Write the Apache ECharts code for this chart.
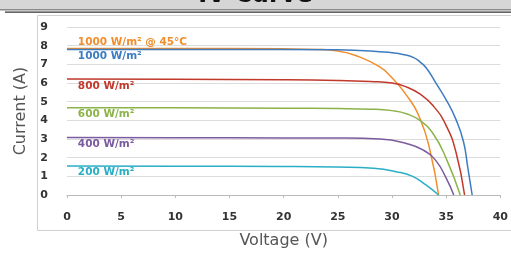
<!DOCTYPE html>
<html style="height: 100%">
<head>
<meta charset="utf-8">
<script src="https://cdn.jsdelivr.net/npm/echarts@6/dist/echarts.min.js"></script>
</head>
<body style="height: 100%; margin: 0; background: #fff">
<div id="container" style="width: 511px; height: 254px"></div>
<script type="text/javascript">
// [voltage, current]
var hot1000 = [[0,7.85],[10,7.85],[20,7.83],[23,7.8],[25,7.72],[27,7.4],[28.9,6.85],[29.8,6.4],[31.4,5.3],[32.6,4.07],[33.5,2.4],[34.3,0]];
var irr1000 = [[0,7.8],[10,7.8],[20,7.8],[25,7.78],[28,7.72],[30,7.62],[31,7.53],[32,7.36],[32.6,7.12],[33.2,6.78],[34.1,5.95],[35.0,5.1],[35.9,4.05],[36.6,2.85],[37.0,1.45],[37.4,0]];
var irr800 = [[0,6.22],[10,6.2],[20,6.18],[25,6.14],[28,6.08],[30,6.0],[31.4,5.77],[32.6,5.4],[33.8,4.78],[35.0,3.72],[35.9,2.3],[36.7,0]];
var irr600 = [[0,4.68],[10,4.67],[20,4.65],[25,4.63],[28,4.6],[30,4.52],[31.4,4.34],[32.6,3.98],[33.8,3.28],[35.0,1.96],[36.3,0]];
var irr400 = [[0,3.08],[10,3.07],[20,3.06],[25,3.05],[28.9,3.0],[31.4,2.75],[32.9,2.4],[34.1,1.8],[35.0,0.9],[35.7,0]];
var irr200 = [[0,1.55],[10,1.54],[20,1.53],[25,1.5],[28.3,1.43],[30.4,1.25],[31.9,1.0],[33.1,0.55],[34.3,0]];

var seriesNames = ['1000 W/m² @ 45°C', '1000 W/m²', '800 W/m²', '600 W/m²', '400 W/m²', '200 W/m²'];
var seriesData = [hot1000, irr1000, irr800, irr600, irr400, irr200];
var labelY = [8.2, 7.45, 5.85, 4.32, 2.73, 1.2];
var colors = ['#f28e2b', '#3d7cc0', '#c0392b', '#8cb34a', '#7b5b9f', '#2aaec6'];

var dom = document.getElementById("container");
var myChart = echarts.init(dom);

var series = [];
for (var i = 0; i < seriesData.length; i++) {
    series.push({
        name: seriesNames[i],
        type: 'line',
        data: seriesData[i],
        smooth: 0.5,
        symbol: 'none',
        lineStyle: { color: colors[i], width: 1.5 },
        markPoint: {
            symbol: 'circle',
            symbolSize: 0,
            data: [{ coord: [1, labelY[i]] }],
            label: {
                show: true,
                position: 'right',
                distance: 0,
                formatter: seriesNames[i],
                color: colors[i],
                fontSize: 10.5,
                fontWeight: 'bold',
                fontFamily: 'DejaVu Sans'
            }
        }
    });
}

var option = {
    backgroundColor: '#fff',
    animation: false,
    title: {
        text: 'IV Curve',
        left: 'center',
        top: -21,
        textStyle: { color: '#111', fontSize: 24, fontWeight: 'bold', fontFamily: 'DejaVu Sans' }
    },
    graphic: [
        { type: 'rect', z: -1, shape: { x: 0, y: 0, width: 511, height: 10 }, style: { fill: '#d6d6d6' } },
        { type: 'rect', shape: { x: 0, y: 9, width: 511, height: 1.5 }, style: { fill: '#8a8a8a' } },
        { type: 'rect', shape: { x: 5, y: 11.5, width: 506, height: 1.2 }, style: { fill: '#333' } },
        { type: 'rect', shape: { x: 37.5, y: 15.5, width: 480, height: 215 }, style: { fill: 'none', stroke: '#d0d0d0', lineWidth: 1 } }
    ],
    grid: { left: 67, right: 7, top: 27, bottom: 57 },
    xAxis: {
        type: 'value',
        min: 0, max: 40, interval: 5,
        name: 'Voltage (V)',
        nameLocation: 'middle',
        nameGap: 38,
        nameTextStyle: { color: '#555', fontSize: 16, fontFamily: 'DejaVu Sans' },
        axisLine: { lineStyle: { color: '#bbb' } },
        axisTick: { show: true, length: 3, lineStyle: { color: '#bbb' } },
        axisLabel: { color: '#333', fontSize: 11, margin: 17, fontWeight: 'bold', fontFamily: 'DejaVu Sans' },
        splitLine: { show: false }
    },
    yAxis: {
        type: 'value',
        min: 0, max: 9, interval: 1,
        name: 'Current (A)',
        nameLocation: 'middle',
        nameGap: 38,
        nameTextStyle: { color: '#555', fontSize: 16, fontFamily: 'DejaVu Sans' },
        axisLine: { show: false },
        axisTick: { show: false },
        axisLabel: { color: '#333', fontSize: 11, margin: 19, fontWeight: 'bold', fontFamily: 'DejaVu Sans' },
        splitLine: { lineStyle: { color: '#dcdcdc' } }
    },
    series: series
};
myChart.setOption(option, true);
</script>
</body>
</html>
